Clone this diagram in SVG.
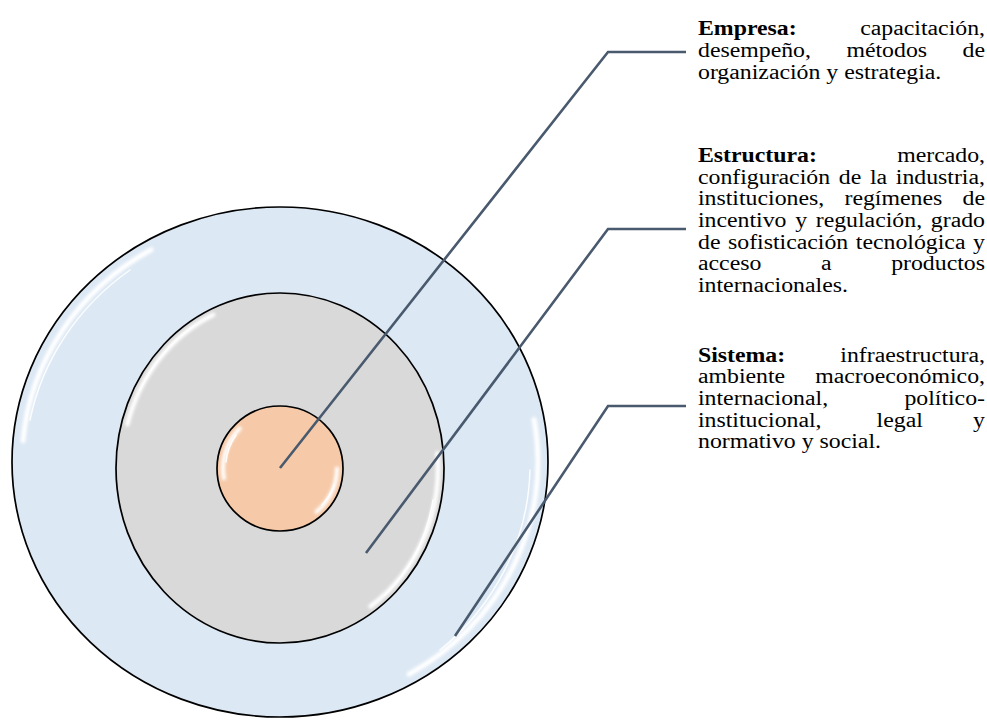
<svg xmlns="http://www.w3.org/2000/svg" width="987" height="726" viewBox="0 0 987 726">
<style>
  .ring { stroke: #000; stroke-width: 1.7; }
  .hl { fill: none; stroke: #fff; stroke-linecap: round; filter: url(#blur); }
  .hlc { fill: none; stroke: #fff; stroke-linecap: round; stroke-width: 1.5; opacity: 0.9; }
  .conn { fill: none; stroke: #4a5a6e; stroke-width: 2.6; stroke-linejoin: miter; }
  .t { font-family: "Liberation Serif", "Times New Roman", serif; font-size: 20px; fill: #000; }
  .b { font-weight: bold; }
  .e { text-anchor: end; }
</style>
<defs>
  <filter id="blur" x="-20%" y="-20%" width="140%" height="140%">
    <feGaussianBlur stdDeviation="1.6"/>
  </filter>
</defs>
<rect width="987" height="726" fill="#fff"/>

<g id="node-sistema">
  <ellipse class="ring" cx="280" cy="462" rx="268" ry="255" fill="#dce8f4"/>
  <path class="hl" stroke-width="5" d="M 23 440.7 A 258 245 0 0 1 151 249.8"/>
  <path class="hlc" d="M 30 420 A 258 245 0 0 1 130 270"/>
  <path class="hl" stroke-width="5" d="M 534 419.5 A 258 245 0 0 1 409 674.2"/>
  <path class="hlc" d="M 530 470 A 258 245 0 0 1 440 650"/>
</g>

<g id="node-estructura">
  <ellipse class="ring" cx="280" cy="468" rx="164" ry="175" fill="#d9d9d9"/>
  <path class="hl" stroke-width="4.5" d="M 127.4 424.3 A 158 169 0 0 1 213.2 314.8"/>
  <path class="hlc" d="M 140 390 A 158 169 0 0 1 195 325"/>
  <path class="hl" stroke-width="4.5" d="M 437.4 453.3 A 158 169 0 0 1 370.6 606.4"/>
  <path class="hlc" d="M 433 500 A 158 169 0 0 1 385 595"/>
</g>

<g id="node-empresa">
  <ellipse class="ring" cx="280" cy="468.5" rx="63" ry="62.5" fill="#f6caa9"/>
  <path class="hl" stroke-width="4" d="M 223.9 478.3 A 57 56.5 0 0 1 239.7 428.5"/>
  <path class="hlc" d="M 226 462 A 57 56.5 0 0 1 236 435"/>
  <path class="hl" stroke-width="4" d="M 337 468.5 A 57 56.5 0 0 1 316.6 511.8"/>
  <path class="hlc" d="M 334 485 A 57 56.5 0 0 1 322 505"/>
</g>

<g id="connectors">
  <polyline class="conn" points="280,468 608,52 686,52"/>
  <polyline class="conn" points="366,553 608,229 686,229"/>
  <polyline class="conn" points="455,636 608,406 686,406"/>
</g>

<g transform="matrix(1.19 0 0 1 -132.62 0)">
<g id="label-empresa" class="t">
  <text x="698" y="35"><tspan class="b">Empresa:</tspan></text>
  <text x="939.18" y="35" class="e">capacitación,</text>
  <text x="698" y="57">desempeño,</text>
  <text x="822.74" y="57">métodos</text>
  <text x="939.18" y="57" class="e">de</text>
  <text x="698" y="79">organización y estrategia.</text>
</g>

<g id="label-estructura" class="t">
  <text x="698" y="162"><tspan class="b">Estructura:</tspan></text>
  <text x="939.18" y="162" class="e">mercado,</text>
  <text x="698" y="184">configuración</text>
  <text x="816.34" y="184">de</text>
  <text x="842.48" y="184">la</text>
  <text x="939.18" y="184" class="e">industria,</text>
  <text x="698" y="205">instituciones,</text>
  <text x="821.09" y="205">regímenes</text>
  <text x="939.18" y="205" class="e">de</text>
  <text x="698" y="227">incentivo</text>
  <text x="779.7" y="227">y</text>
  <text x="796.96" y="227">regulación,</text>
  <text x="939.18" y="227" class="e">grado</text>
  <text x="698" y="249">de</text>
  <text x="723.21" y="249">sofisticación</text>
  <text x="830.64" y="249">tecnológica</text>
  <text x="939.18" y="249" class="e">y</text>
  <text x="698" y="270">acceso</text>
  <text x="801.36" y="270">a</text>
  <text x="939.18" y="270" class="e">productos</text>
  <text x="698" y="292">internacionales.</text>
</g>

<g id="label-sistema" class="t">
  <text x="698" y="362"><tspan class="b">Sistema:</tspan></text>
  <text x="939.18" y="362" class="e">infraestructura,</text>
  <text x="698" y="383">ambiente</text>
  <text x="939.18" y="383" class="e">macroeconómico,</text>
  <text x="698" y="405">internacional,</text>
  <text x="939.18" y="405" class="e">político-</text>
  <text x="698" y="427">institucional,</text>
  <text x="848.1" y="427">legal</text>
  <text x="939.18" y="427" class="e">y</text>
  <text x="698" y="448">normativo y social.</text>
</g>
</g>
</svg>
